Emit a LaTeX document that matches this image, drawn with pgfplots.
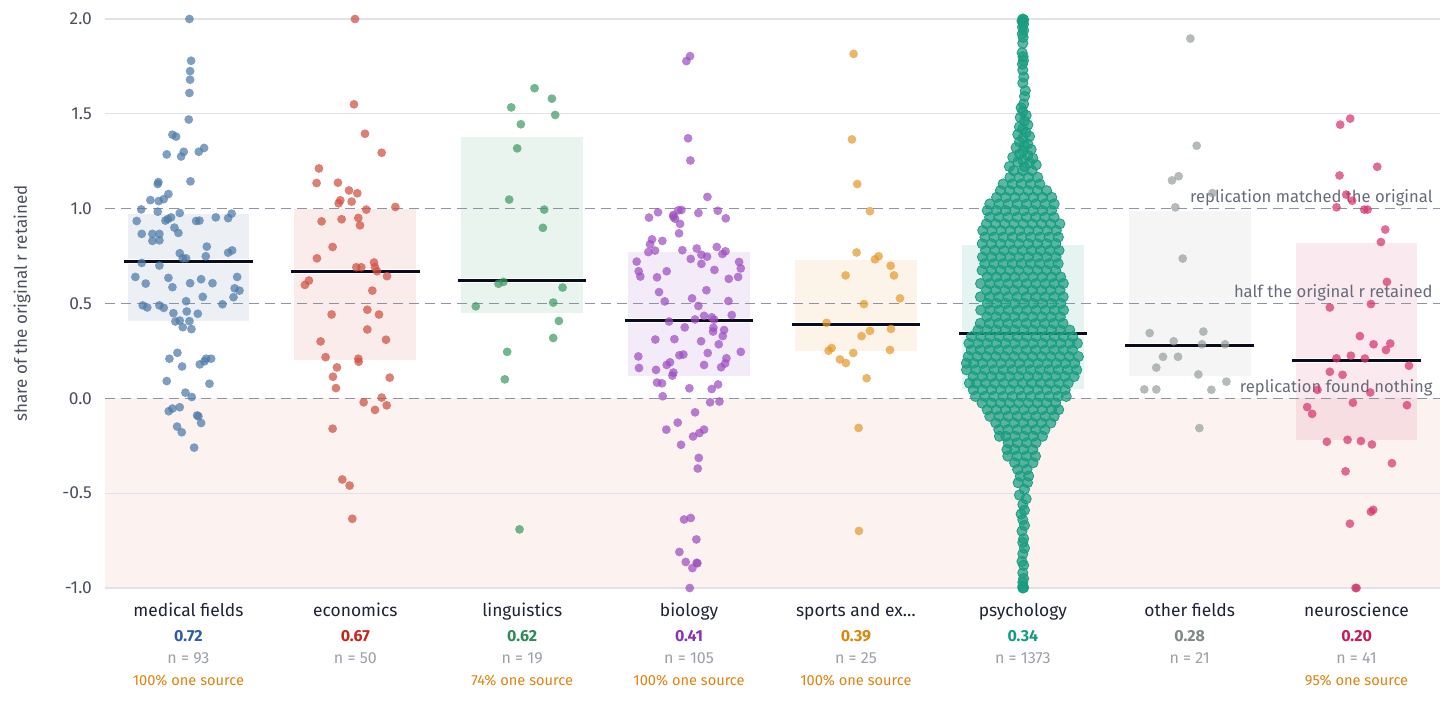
\documentclass[border=0pt]{standalone}
\usepackage{fontspec}
\setmainfont{Fira Sans}
\usepackage{pgfplots}
\pgfplotsset{compat=1.18}
\definecolor{catlabel}{HTML}{1E2235}
\definecolor{ticklab}{HTML}{4A4F5C}
\definecolor{ngray}{HTML}{9A9FA8}
\definecolor{srcorange}{HTML}{E0820E}
\definecolor{reflab}{HTML}{666B7A}
\definecolor{refline}{HTML}{8E93A6}
\definecolor{gridc}{HTML}{E1E2EA}
\definecolor{negband}{HTML}{FCF3F1}
\definecolor{medline}{HTML}{0B0B1E}
\definecolor{medT}{HTML}{2F5E9E}\definecolor{medP}{HTML}{4E79A8}
\definecolor{ecoT}{HTML}{C3271D}\definecolor{ecoP}{HTML}{CF4F40}
\definecolor{linT}{HTML}{2F8A55}\definecolor{linP}{HTML}{3E9A64}
\definecolor{bioT}{HTML}{8A34B0}\definecolor{bioP}{HTML}{9C4DC0}
\definecolor{spoT}{HTML}{D9870F}\definecolor{spoP}{HTML}{E49A2E}
\definecolor{psyT}{HTML}{159C80}\definecolor{psyP}{HTML}{1A9C80}
\definecolor{othT}{HTML}{7F8A88}\definecolor{othP}{HTML}{98A19F}
\definecolor{neuT}{HTML}{CC1A55}\definecolor{neuP}{HTML}{D6346C}
\pgfplotsset{
  dots/.style={only marks, mark=*, mark size=2.2pt, color=#1, mark options={fill=#1, draw=#1, fill opacity=0.72, draw opacity=0}},
  boxf/.style={no marks, draw=none, fill=#1, fill opacity=0.11},
  medl/.style={no marks, line width=1.5pt, color=medline, preaction={draw=white, line width=2.7pt}},
}
\newcommand{\fs}[1]{\fontsize{#1}{#1}\selectfont}
\newcommand{\catlabels}[6]{%
  \node[anchor=base, text=catlabel, font=\fs{8.7}, yshift=-14.5pt] at (axis cs:#1,-1) {#2};
  \node[anchor=base, text=#3, font=\fs{8}\bfseries, yshift=-26.8pt] at (axis cs:#1,-1) {#4};
  \node[anchor=base, text=ngray, font=\fs{8}, yshift=-38pt] at (axis cs:#1,-1) {#5};
  \node[anchor=base, text=srcorange, font=\fs{7.3}, yshift=-48.8pt] at (axis cs:#1,-1) {#6};
}
\begin{document}
\begin{tikzpicture}
\useasboundingbox (-52.5pt,-64pt) rectangle (675.5pt,294pt);
\begin{axis}[at={(0pt,0pt)}, anchor=south west, scale only axis,
  width=667.5pt, height=284.5pt,
  xmin=-0.5, xmax=7.5, ymin=-1, ymax=2,
  axis line style={draw=none}, tick style={draw=none},
  xtick=\empty,
  ytick={-1,-0.5,0,0.5,1,1.5,2},
  yticklabels={-1.0,-0.5,0.0,0.5,1.0,1.5,2.0},
  yticklabel style={font=\fs{8.7}, text=ticklab, xshift=-3pt},
  ylabel={share of the original r retained},
  ylabel style={at={(axis description cs:-0.0622,0.5)}, anchor=center, font=\fs{8.5}, text=ticklab},
  clip=false]
% negative band
\addplot[no marks, draw=none, fill=negband] coordinates {(-0.5,-1)(7.5,-1)(7.5,0)(-0.5,0)};
% grid
\draw[gridc, line width=0.6pt] (axis cs:-0.5,2) -- (axis cs:7.5,2);
\draw[gridc, line width=0.6pt] (axis cs:-0.5,1.5) -- (axis cs:7.5,1.5);
\draw[gridc, line width=0.6pt] (axis cs:-0.5,-0.5) -- (axis cs:7.5,-0.5);
\draw[gridc, line width=0.6pt] (axis cs:-0.5,-1) -- (axis cs:7.5,-1);
% boxes
\addplot[boxf=medP] coordinates {(-0.365,0.41)(0.365,0.41)(0.365,0.97)(-0.365,0.97)};
\addplot[boxf=ecoP] coordinates {(0.635,0.20)(1.365,0.20)(1.365,1.00)(0.635,1.00)};
\addplot[boxf=linP] coordinates {(1.635,0.45)(2.365,0.45)(2.365,1.38)(1.635,1.38)};
\addplot[boxf=bioP] coordinates {(2.635,0.12)(3.365,0.12)(3.365,0.77)(2.635,0.77)};
\addplot[boxf=spoP] coordinates {(3.635,0.25)(4.365,0.25)(4.365,0.73)(3.635,0.73)};
\addplot[boxf=psyP] coordinates {(4.635,0.05)(5.365,0.05)(5.365,0.81)(4.635,0.81)};
\addplot[boxf=othP] coordinates {(5.635,0.12)(6.365,0.12)(6.365,0.99)(5.635,0.99)};
\addplot[boxf=neuP] coordinates {(6.635,-0.22)(7.365,-0.22)(7.365,0.82)(6.635,0.82)};
% reference lines
\draw[refline, line width=0.8pt, dash pattern=on 5pt off 3pt] (axis cs:-0.5,1) -- (axis cs:7.5,1);
\draw[refline, line width=0.8pt, dash pattern=on 5pt off 3pt] (axis cs:-0.5,0.5) -- (axis cs:7.5,0.5);
\draw[refline, line width=0.8pt, dash pattern=on 5pt off 3pt] (axis cs:-0.5,0) -- (axis cs:7.5,0);
% medical fields
\addplot[dots=medP] coordinates {
(0.006,2.0)(0.016,1.78)(0.01,1.725)(0.01,1.68)(0.006,1.61)(0.002,1.47)(-0.096,1.39)(-0.074,1.38)
(-0.13,1.286)(-0.044,1.275)(-0.028,1.30)(0.062,1.30)(0.094,1.32)(0.012,1.144)(-0.184,1.13)(-0.18,1.14)
(-0.12,1.077)(-0.148,1.05)(-0.178,1.04)(-0.228,1.045)(-0.283,0.996)(-0.184,0.984)(-0.052,0.977)(0.259,0.974)
(-0.31,0.935)(-0.138,0.937)(-0.124,0.945)(-0.104,0.954)(0.046,0.935)(0.066,0.937)(0.164,0.954)(0.238,0.95)
(-0.28,0.867)(-0.216,0.867)(-0.174,0.867)(-0.216,0.83)(-0.174,0.833)(-0.084,0.9)(-0.06,0.872)(0.11,0.8)
(-0.052,0.765)(-0.034,0.738)(-0.014,0.738)(0.104,0.749)(0.238,0.768)(0.262,0.78)(-0.28,0.714)(-0.174,0.70)
(-0.318,0.64)(-0.12,0.635)(0.076,0.628)(0.292,0.64)(-0.256,0.605)(-0.096,0.586)(0.01,0.607)(0.144,0.607)
(0.277,0.58)(0.306,0.568)(0.086,0.535)(0.27,0.533)(-0.014,0.512)(-0.274,0.49)(-0.247,0.479)(-0.174,0.49)
(-0.148,0.477)(0.204,0.496)(-0.09,0.449)(-0.01,0.458)(0.056,0.446)(-0.078,0.405)(-0.052,0.41)(0.006,0.407)
(-0.034,0.375)(0.018,0.365)(-0.066,0.24)(-0.114,0.209)(0.106,0.209)(0.136,0.209)(-0.038,0.168)(0.068,0.179)
(0.096,0.195)(-0.13,0.091)(0.126,0.077)(-0.018,0.03)(0.02,0.007)(-0.118,-0.068)(-0.096,-0.054)(-0.052,-0.047)
(0.052,-0.09)(0.06,-0.095)(0.076,-0.13)(-0.068,-0.149)(-0.04,-0.179)(0.034,-0.26)
};
% economics
\addplot[dots=ecoP] coordinates {
(0.998,2.0)(0.992,1.55)(1.058,1.395)(1.158,1.295)(0.782,1.212)(0.768,1.135)(0.896,1.137)(0.962,1.096)
(1.012,1.081)(0.91,1.044)(0.9,1.028)(0.978,1.037)(1.066,0.995)(1.24,1.009)(0.798,0.933)(0.918,0.944)
(1.018,0.951)(1.028,0.912)(0.864,0.798)(0.77,0.738)(1.112,0.716)(1.006,0.691)(1.036,0.691)(1.118,0.691)
(1.19,0.644)(0.722,0.621)(0.698,0.598)(1.102,0.568)(0.858,0.442)(1.072,0.467)(1.142,0.442)(1.072,0.363)
(0.792,0.3)(1.184,0.309)(0.822,0.217)(1.018,0.209)(1.02,0.193)(0.89,0.163)(0.866,0.114)(1.206,0.109)
(0.884,0.054)(1.158,0.004)(1.05,-0.021)(1.118,-0.061)(1.188,-0.037)(0.864,-0.16)(0.922,-0.428)(0.966,-0.46)
(0.982,-0.635)(1.13,0.67)
};
% linguistics
\addplot[dots=linP] coordinates {
(2.074,1.635)(1.934,1.534)(2.178,1.58)(2.198,1.494)(1.992,1.445)(1.97,1.318)(1.922,1.048)(2.132,0.995)
(2.124,0.899)(1.858,0.604)(1.888,0.614)(2.242,0.584)(1.722,0.485)(2.186,0.505)(2.22,0.408)(2.186,0.318)
(1.91,0.245)(1.896,0.1)(1.984,-0.691)
};
% biology
\addplot[dots=bioP] coordinates {
(3.006,1.804)(2.984,1.778)(2.994,1.371)(3.008,1.254)(3.11,1.062)(2.76,0.953)(2.814,0.981)(2.906,0.957)
(2.916,0.947)(2.906,0.967)(2.936,0.991)(2.954,0.993)(2.946,0.92)(3.056,0.977)(3.172,0.989)(3.22,0.949)
(2.94,0.87)(2.778,0.838)(2.766,0.812)(2.84,0.83)(2.756,0.771)(2.796,0.779)(2.96,0.781)(3.046,0.79)
(3.074,0.757)(3.108,0.747)(3.166,0.798)(3.2,0.761)(3.218,0.775)(3.01,0.735)(3.074,0.709)(2.686,0.721)
(3.3,0.719)(3.31,0.685)(2.698,0.67)(2.708,0.642)(2.808,0.638)(2.866,0.67)(3.152,0.677)(3.238,0.63)
(3.294,0.64)(2.82,0.56)(3.104,0.57)(2.854,0.511)(3.018,0.527)(3.056,0.487)(3.236,0.513)(3.09,0.435)
(3.136,0.427)(3.256,0.439)(3.036,0.416)(2.974,0.374)(3.146,0.372)(3.21,0.36)(3.144,0.352)(3.202,0.328)
(2.798,0.31)(2.912,0.312)(3.072,0.301)(3.178,0.285)(2.696,0.221)(2.7,0.16)(2.942,0.227)(2.966,0.231)
(3.112,0.239)(3.31,0.245)(2.886,0.19)(2.866,0.176)(2.802,0.15)(2.906,0.136)(2.9,0.12)(3.09,0.176)
(3.192,0.164)(3.224,0.211)(3.216,0.184)(2.808,0.083)(2.838,0.079)(2.842,0.011)(3.002,0.053)(3.136,0.049)
(3.174,0.073)(3.126,-0.021)(3.182,-0.017)(3.036,-0.074)(2.864,-0.165)(2.932,-0.128)(2.952,-0.245)(3.024,-0.201)
(3.062,-0.183)(3.09,-0.165)(3.058,-0.314)(3.052,-0.37)(2.97,-0.639)(3.01,-0.631)(3.044,-0.744)(2.942,-0.81)
(2.98,-0.863)(3.046,-0.867)(3.05,-0.87)(3.02,-0.895)(3.004,-1.0)(2.88,0.405)(3.15,0.415)
};
% sports and exercise
\addplot[dots=spoP] coordinates {
(3.986,1.816)(3.976,1.365)(4.008,1.13)(4.084,0.987)(4.004,0.769)(4.114,0.733)(4.136,0.749)(4.208,0.699)
(3.938,0.648)(4.228,0.648)(4.264,0.527)(4.048,0.497)(3.824,0.398)(4.21,0.366)(4.084,0.356)(4.034,0.328)
(3.854,0.265)(3.836,0.251)(4.204,0.255)(3.984,0.239)(3.904,0.205)(3.94,0.186)(4.064,0.106)(4.016,-0.156)
(4.018,-0.699)
};
% psychology
\addplot[dots=psyP, mark size=2.55pt, mark options={fill opacity=0.72}] coordinates {
(5.000,2.000)(5.005,1.995)(4.995,1.990)(5.000,1.984)(5.004,1.972)(4.998,1.957)(5.005,1.940)(4.997,1.922)
(5.002,1.903)(5.000,1.872)(4.996,1.822)(5.002,1.801)(5.004,1.781)(4.998,1.762)(5.000,1.731)(5.006,1.694)
(5.000,1.662)(5.015,1.622)(5.010,1.592)(5.005,1.552)(4.990,1.532)(5.000,1.512)(5.020,1.492)(4.985,1.481)
(5.010,1.462)(5.030,1.442)(4.980,1.431)(5.000,1.421)(5.020,1.402)(4.970,1.391)(5.040,1.381)(5.000,1.372)
(4.980,1.352)(5.030,1.341)(5.010,1.332)(4.960,1.322)(5.050,1.312)(5.000,1.302)(4.980,1.287)(5.030,1.281)
(4.940,1.271)(5.060,1.266)(5.000,1.256)(4.970,1.246)(5.040,1.241)(5.080,1.231)(4.920,1.222)(5.010,1.221)
(4.945,1.200)(5.000,1.200)(5.055,1.200)
(4.923,1.165)(4.978,1.165)(5.034,1.165)(5.089,1.165)
(4.882,1.130)(4.937,1.130)(4.992,1.130)(5.047,1.130)(5.102,1.130)
(4.866,1.095)(4.921,1.095)(4.976,1.095)(5.032,1.095)(5.087,1.095)(5.142,1.095)
(4.843,1.060)(4.898,1.060)(4.953,1.060)(5.008,1.060)(5.063,1.060)(5.118,1.060)(5.173,1.060)
(4.802,1.025)(4.857,1.025)(4.912,1.025)(4.967,1.025)(5.023,1.025)(5.078,1.025)(5.133,1.025)(5.188,1.025)
(4.787,0.990)(4.842,0.990)(4.897,0.990)(4.952,0.990)(5.007,0.990)(5.062,0.990)(5.117,0.990)(5.172,0.990)
(4.801,0.955)(4.856,0.955)(4.911,0.955)(4.966,0.955)(5.022,0.955)(5.077,0.955)(5.132,0.955)(5.187,0.955)
(4.782,0.920)(4.837,0.920)(4.892,0.920)(4.947,0.920)(5.002,0.920)(5.057,0.920)(5.112,0.920)(5.167,0.920)(5.222,0.920)
(4.760,0.885)(4.815,0.885)(4.870,0.885)(4.925,0.885)(4.980,0.885)(5.036,0.885)(5.091,0.885)(5.146,0.885)(5.201,0.885)
(4.773,0.850)(4.828,0.850)(4.883,0.850)(4.938,0.850)(4.993,0.850)(5.048,0.850)(5.103,0.850)(5.158,0.850)(5.213,0.850)
(4.757,0.815)(4.812,0.815)(4.867,0.815)(4.922,0.815)(4.977,0.815)(5.033,0.815)(5.088,0.815)(5.143,0.815)(5.198,0.815)
(4.777,0.780)(4.832,0.780)(4.887,0.780)(4.942,0.780)(4.997,0.780)(5.052,0.780)(5.107,0.780)(5.162,0.780)(5.217,0.780)
(4.758,0.745)(4.813,0.745)(4.868,0.745)(4.923,0.745)(4.978,0.745)(5.034,0.745)(5.089,0.745)(5.144,0.745)(5.199,0.745)
(4.772,0.710)(4.827,0.710)(4.882,0.710)(4.937,0.710)(4.992,0.710)(5.047,0.710)(5.102,0.710)(5.157,0.710)(5.212,0.710)
(4.756,0.675)(4.811,0.675)(4.866,0.675)(4.921,0.675)(4.976,0.675)(5.032,0.675)(5.087,0.675)(5.142,0.675)(5.197,0.675)
(4.787,0.640)(4.842,0.640)(4.897,0.640)(4.952,0.640)(5.007,0.640)(5.062,0.640)(5.117,0.640)(5.172,0.640)(5.227,0.640)
(4.747,0.605)(4.802,0.605)(4.857,0.605)(4.912,0.605)(4.967,0.605)(5.023,0.605)(5.078,0.605)(5.133,0.605)(5.188,0.605)(5.243,0.605)
(4.783,0.570)(4.838,0.570)(4.893,0.570)(4.948,0.570)(5.003,0.570)(5.058,0.570)(5.113,0.570)(5.168,0.570)(5.223,0.570)
(4.746,0.535)(4.801,0.535)(4.856,0.535)(4.911,0.535)(4.966,0.535)(5.022,0.535)(5.077,0.535)(5.132,0.535)(5.187,0.535)(5.242,0.535)
(4.788,0.500)(4.843,0.500)(4.898,0.500)(4.953,0.500)(5.008,0.500)(5.063,0.500)(5.118,0.500)(5.173,0.500)(5.228,0.500)
(4.748,0.465)(4.803,0.465)(4.858,0.465)(4.913,0.465)(4.968,0.465)(5.024,0.465)(5.079,0.465)(5.134,0.465)(5.189,0.465)(5.244,0.465)
(4.785,0.430)(4.840,0.430)(4.895,0.430)(4.950,0.430)(5.005,0.430)(5.060,0.430)(5.115,0.430)(5.170,0.430)(5.225,0.430)
(4.745,0.395)(4.800,0.395)(4.855,0.395)(4.910,0.395)(4.965,0.395)(5.021,0.395)(5.076,0.395)(5.131,0.395)(5.186,0.395)(5.241,0.395)
(4.731,0.360)(4.786,0.360)(4.841,0.360)(4.896,0.360)(4.951,0.360)(5.006,0.360)(5.061,0.360)(5.116,0.360)(5.171,0.360)(5.226,0.360)(5.281,0.360)
(4.693,0.325)(4.748,0.325)(4.803,0.325)(4.858,0.325)(4.913,0.325)(4.968,0.325)(5.024,0.325)(5.079,0.325)(5.134,0.325)(5.189,0.325)(5.244,0.325)(5.299,0.325)
(4.677,0.290)(4.732,0.290)(4.787,0.290)(4.842,0.290)(4.897,0.290)(4.952,0.290)(5.007,0.290)(5.062,0.290)(5.117,0.290)(5.172,0.290)(5.227,0.290)(5.282,0.290)(5.327,0.290)
(4.691,0.255)(4.746,0.255)(4.801,0.255)(4.856,0.255)(4.911,0.255)(4.966,0.255)(5.022,0.255)(5.077,0.255)(5.132,0.255)(5.187,0.255)(5.242,0.255)(5.297,0.255)
(4.673,0.220)(4.728,0.220)(4.783,0.220)(4.838,0.220)(4.893,0.220)(4.948,0.220)(5.003,0.220)(5.058,0.220)(5.113,0.220)(5.168,0.220)(5.223,0.220)(5.278,0.220)(5.333,0.220)
(4.662,0.185)(4.705,0.185)(4.760,0.185)(4.815,0.185)(4.870,0.185)(4.925,0.185)(4.980,0.185)(5.036,0.185)(5.091,0.185)(5.146,0.185)(5.201,0.185)(5.256,0.185)(5.311,0.185)
(4.663,0.150)(4.718,0.150)(4.773,0.150)(4.828,0.150)(4.883,0.150)(4.938,0.150)(4.993,0.150)(5.048,0.150)(5.103,0.150)(5.158,0.150)(5.213,0.150)(5.268,0.150)(5.323,0.150)
(4.702,0.115)(4.757,0.115)(4.812,0.115)(4.867,0.115)(4.922,0.115)(4.977,0.115)(5.033,0.115)(5.088,0.115)(5.143,0.115)(5.198,0.115)(5.253,0.115)(5.308,0.115)
(4.680,0.080)(4.722,0.080)(4.777,0.080)(4.832,0.080)(4.887,0.080)(4.942,0.080)(4.997,0.080)(5.052,0.080)(5.107,0.080)(5.162,0.080)(5.217,0.080)(5.272,0.080)
(4.703,0.045)(4.758,0.045)(4.813,0.045)(4.868,0.045)(4.923,0.045)(4.978,0.045)(5.034,0.045)(5.089,0.045)(5.144,0.045)(5.199,0.045)(5.254,0.045)
(4.717,0.010)(4.772,0.010)(4.827,0.010)(4.882,0.010)(4.937,0.010)(4.992,0.010)(5.047,0.010)(5.102,0.010)(5.157,0.010)(5.212,0.010)(5.260,0.010)
(4.756,-0.025)(4.811,-0.025)(4.866,-0.025)(4.921,-0.025)(4.976,-0.025)(5.032,-0.025)(5.087,-0.025)(5.142,-0.025)(5.197,-0.025)
(4.787,-0.060)(4.842,-0.060)(4.897,-0.060)(4.952,-0.060)(5.007,-0.060)(5.062,-0.060)(5.117,-0.060)(5.172,-0.060)(5.215,-0.060)
(4.802,-0.095)(4.857,-0.095)(4.912,-0.095)(4.967,-0.095)(5.023,-0.095)(5.078,-0.095)(5.133,-0.095)(5.188,-0.095)
(4.838,-0.130)(4.893,-0.130)(4.948,-0.130)(5.003,-0.130)(5.058,-0.130)(5.113,-0.130)(5.168,-0.130)
(4.856,-0.165)(4.911,-0.165)(4.966,-0.165)(5.022,-0.165)(5.077,-0.165)(5.132,-0.165)
(4.860,-0.200)(4.898,-0.200)(4.953,-0.200)(5.008,-0.200)(5.063,-0.200)(5.118,-0.200)
(4.913,-0.235)(4.968,-0.235)(5.024,-0.235)(5.079,-0.235)
(4.905,-0.270)(4.950,-0.270)(5.005,-0.270)(5.060,-0.270)
(4.910,-0.305)(4.965,-0.305)(5.021,-0.305)(5.076,-0.305)
(4.951,-0.340)(5.006,-0.340)(5.061,-0.340)
(4.969,-0.375)(5.025,-0.375)(4.985,-0.410)(5.035,-0.410)(4.972,-0.445)(5.028,-0.445)
(5.010,-0.480)(4.980,-0.510)(5.020,-0.530)(5.000,-0.560)(5.010,-0.590)(4.990,-0.610)(5.000,-0.640)(5.010,-0.670)
(4.995,-0.700)(5.005,-0.740)(5.000,-0.760)(5.010,-0.790)(5.000,-0.820)(4.995,-0.860)(5.005,-0.880)(5.000,-0.920)
(5.005,-0.950)(5.000,-0.970)(5.000,-0.990)(5.000,-1.000)(5.005,-0.998)
};
% other fields
\addplot[dots=othP] coordinates {
(6.004,1.897)(6.042,1.332)(5.894,1.149)(5.934,1.171)(6.136,1.082)(5.914,1.007)(5.958,0.737)(5.76,0.344)
(6.082,0.352)(5.904,0.301)(6.074,0.285)(6.212,0.285)(5.84,0.219)(5.93,0.219)(5.8,0.162)(6.052,0.126)
(6.22,0.088)(5.728,0.047)(5.8,0.047)(6.13,0.045)(6.058,-0.157)
};
% neuroscience
\addplot[dots=neuP] coordinates {
(6.902,1.443)(6.962,1.475)(7.124,1.221)(6.898,1.175)(6.938,1.074)(6.974,1.042)(6.88,1.007)(7.046,0.995)
(7.066,0.995)(7.172,0.89)(7.146,0.824)(7.182,0.614)(7.086,0.497)(6.84,0.479)(7.02,0.328)(7.102,0.285)
(7.202,0.289)(7.176,0.255)(6.88,0.211)(6.966,0.225)(7.314,0.172)(6.84,0.14)(6.916,0.124)(6.766,0.045)
(7.082,0.031)(6.978,-0.023)(7.302,-0.036)(6.704,-0.046)(6.734,-0.082)(6.822,-0.229)(6.946,-0.219)(7.026,-0.225)
(7.092,-0.243)(7.212,-0.342)(6.934,-0.385)(7.086,-0.598)(7.1,-0.588)(6.96,-0.661)(7.0,-1.0)(6.994,-1.0)(7.05,0.21)
};
% medians
\addplot[medl] coordinates {(-0.385,0.72)(0.385,0.72)};
\addplot[medl] coordinates {(0.615,0.67)(1.385,0.67)};
\addplot[medl] coordinates {(1.615,0.62)(2.385,0.62)};
\addplot[medl] coordinates {(2.615,0.41)(3.385,0.41)};
\addplot[medl] coordinates {(3.615,0.39)(4.385,0.39)};
\addplot[medl] coordinates {(4.615,0.34)(5.385,0.34)};
\addplot[medl] coordinates {(5.615,0.28)(6.385,0.28)};
\addplot[medl] coordinates {(6.615,0.20)(7.385,0.20)};
% reference labels
\node[anchor=base east, inner sep=0pt, text=reflab, font=\fs{8.3}, xshift=-3.5pt, yshift=3.3pt] at (axis cs:7.5,1) {replication matched the original};
\node[anchor=base east, inner sep=0pt, text=reflab, font=\fs{8.3}, xshift=-3.5pt, yshift=2.9pt] at (axis cs:7.5,0.5) {half the original r retained};
\node[anchor=base east, inner sep=0pt, text=reflab, font=\fs{8.3}, xshift=-3.5pt, yshift=3.1pt] at (axis cs:7.5,0) {replication found nothing};
% category labels
\catlabels{0}{medical fields}{medT}{0.72}{n = 93}{100\% one source}
\catlabels{1}{economics}{ecoT}{0.67}{n = 50}{}
\catlabels{2}{linguistics}{linT}{0.62}{n = 19}{74\% one source}
\catlabels{3}{biology}{bioT}{0.41}{n = 105}{100\% one source}
\catlabels{4}{sports and ex…}{spoT}{0.39}{n = 25}{100\% one source}
\catlabels{5}{psychology}{psyT}{0.34}{n = 1373}{}
\catlabels{6}{other fields}{othT}{0.28}{n = 21}{}
\catlabels{7}{neuroscience}{neuT}{0.20}{n = 41}{95\% one source}
\end{axis}
\end{tikzpicture}
\end{document}
